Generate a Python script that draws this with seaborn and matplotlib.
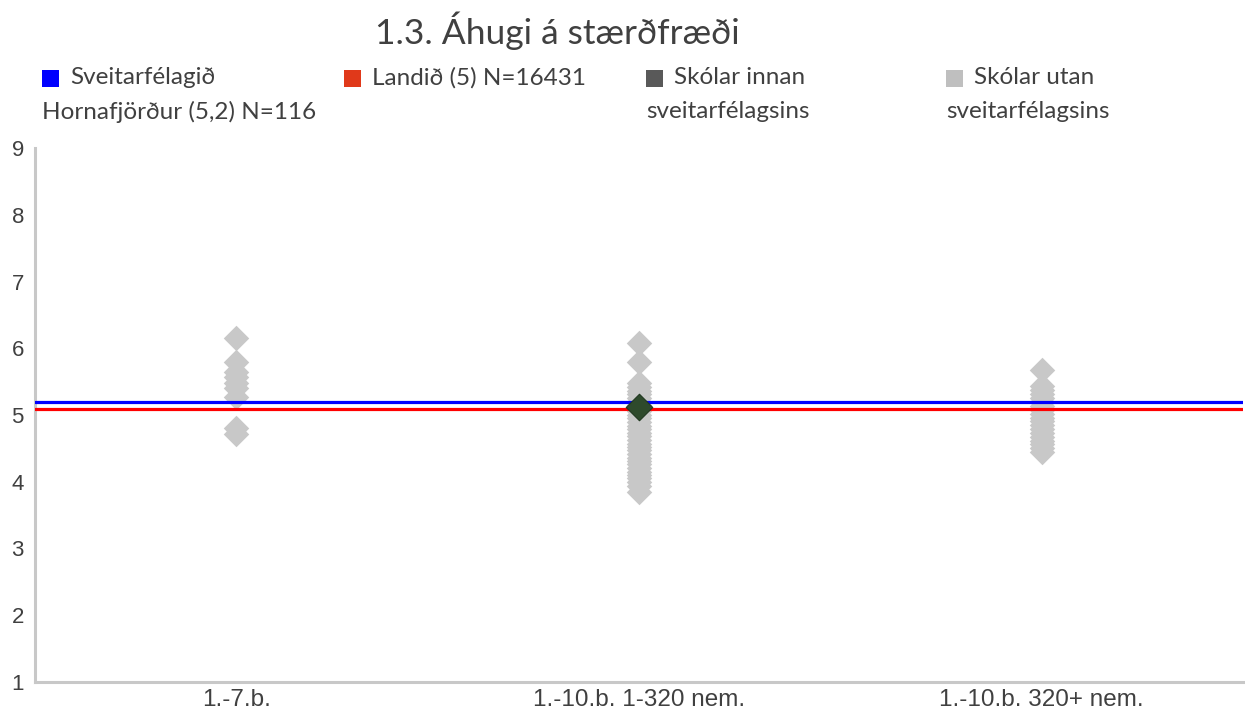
import matplotlib
matplotlib.use("Agg")
import matplotlib.pyplot as plt
import seaborn as sns
import pandas as pd
from matplotlib.patches import Rectangle

# data
categories = ["1.-7.b.", "1.-10.b. 1-320 nem.", "1.-10.b. 320+ nem."]

schools_small = [6.16, 5.79, 5.64, 5.57, 5.48, 5.40, 5.27, 4.81, 4.72]
schools_mid = [6.08, 5.79, 5.48, 5.42, 5.36, 5.31, 5.25, 5.20, 5.15, 5.11, 5.06,
               5.00, 4.95, 4.90, 4.84, 4.79, 4.73, 4.68, 4.62, 4.57, 4.52, 4.47,
               4.42, 4.36, 4.31, 4.26, 4.21, 4.15, 4.10, 4.05, 4.00, 3.94, 3.85]
schools_large = [5.67, 5.43, 5.37, 5.31, 5.25, 5.19, 5.13, 5.07, 5.02, 4.96,
                 4.91, 4.85, 4.79, 4.73, 4.67, 4.61, 4.56, 4.50, 4.45]

own_school_cat = categories[1]
own_school_val = 5.12

municipality_mean = 5.2
national_mean = 5.09

legend_labels = ["Sveitarfélagið\nHornafjörður (5,2) N=116", "Landið (5) N=16431",
                 "Skólar innan\nsveitarfélagsins", "Skólar utan\nsveitarfélagsins"]
legend_colors = ["#0000ff", "#e0391a", "#595959", "#bfbfbf"]

df = pd.DataFrame({
    "group": [categories[0]] * len(schools_small)
             + [categories[1]] * len(schools_mid)
             + [categories[2]] * len(schools_large),
    "score": schools_small + schools_mid + schools_large,
})

sns.set_style("white")
plt.rcParams["font.family"] = ["Lato", "DejaVu Sans"]

fig = plt.figure(figsize=(12.45, 7.11), dpi=100)
ax = fig.add_axes([35 / 1245, 29 / 711, 1208 / 1245, 534 / 711])

sns.stripplot(data=df, x="group", y="score", order=categories, jitter=False,
              marker="D", size=13, color="#c8c8c8", linewidth=0, ax=ax, zorder=2)
sns.stripplot(x=[own_school_cat], y=[own_school_val], order=categories, jitter=False,
              marker="D", size=13.5, color="#2e4a2c", edgecolor="#203820",
              linewidth=0.8, ax=ax, zorder=4)

ax.axhline(municipality_mean, color="#0000ff", lw=2.3, zorder=3)
ax.axhline(national_mean, color="#ff0000", lw=2.3, zorder=3)

ax.set_ylim(1, 9)
ax.set_xlim(-0.5, 2.5)
ax.set_yticks(range(1, 10))
ax.set_xlabel("")
ax.set_ylabel("")

for side in ["top", "right"]:
    ax.spines[side].set_visible(False)
for side in ["left", "bottom"]:
    ax.spines[side].set_color("#c8c8c8")
    ax.spines[side].set_linewidth(2.2)

ax.tick_params(axis="y", length=4, width=0.8, color="#808080", pad=4,
               labelsize=16, labelcolor="#404040")
ax.tick_params(axis="x", length=0, pad=5, labelsize=17.5, labelcolor="#404040")
for lab in ax.get_yticklabels():
    lab.set_family(["Liberation Sans", "DejaVu Sans"])
for lab in ax.get_xticklabels():
    lab.set_family(["Liberation Sans Narrow", "Liberation Sans", "DejaVu Sans"])

fig.text(557 / 1245, 1 - 31 / 711, "1.3. Áhugi á stærðfræði", ha="center", va="center",
         fontsize=25.5, fontweight="normal", color="#404040")

# legend drawn by hand so the wrapped lines sit like in the reference
leg_x = [42, 344, 646, 946]
for x, lab, col in zip(leg_x, legend_labels, legend_colors):
    fig.add_artist(Rectangle((x / 1245, 1 - 87 / 711), 17 / 1245, 17 / 711,
                             transform=fig.transFigure, color=col, lw=0))
    lines = lab.split("\n")
    fig.text((x + 28) / 1245, 1 - 78 / 711, lines[0], ha="left", va="center",
             fontsize=17.5, color="#404040")
    if len(lines) > 1:
        fig.text(x / 1245, 1 - 112 / 711, lines[1], ha="left", va="center",
                 fontsize=17.5, color="#404040")

fig.savefig("out.png", dpi=100)
plt.close(fig)
